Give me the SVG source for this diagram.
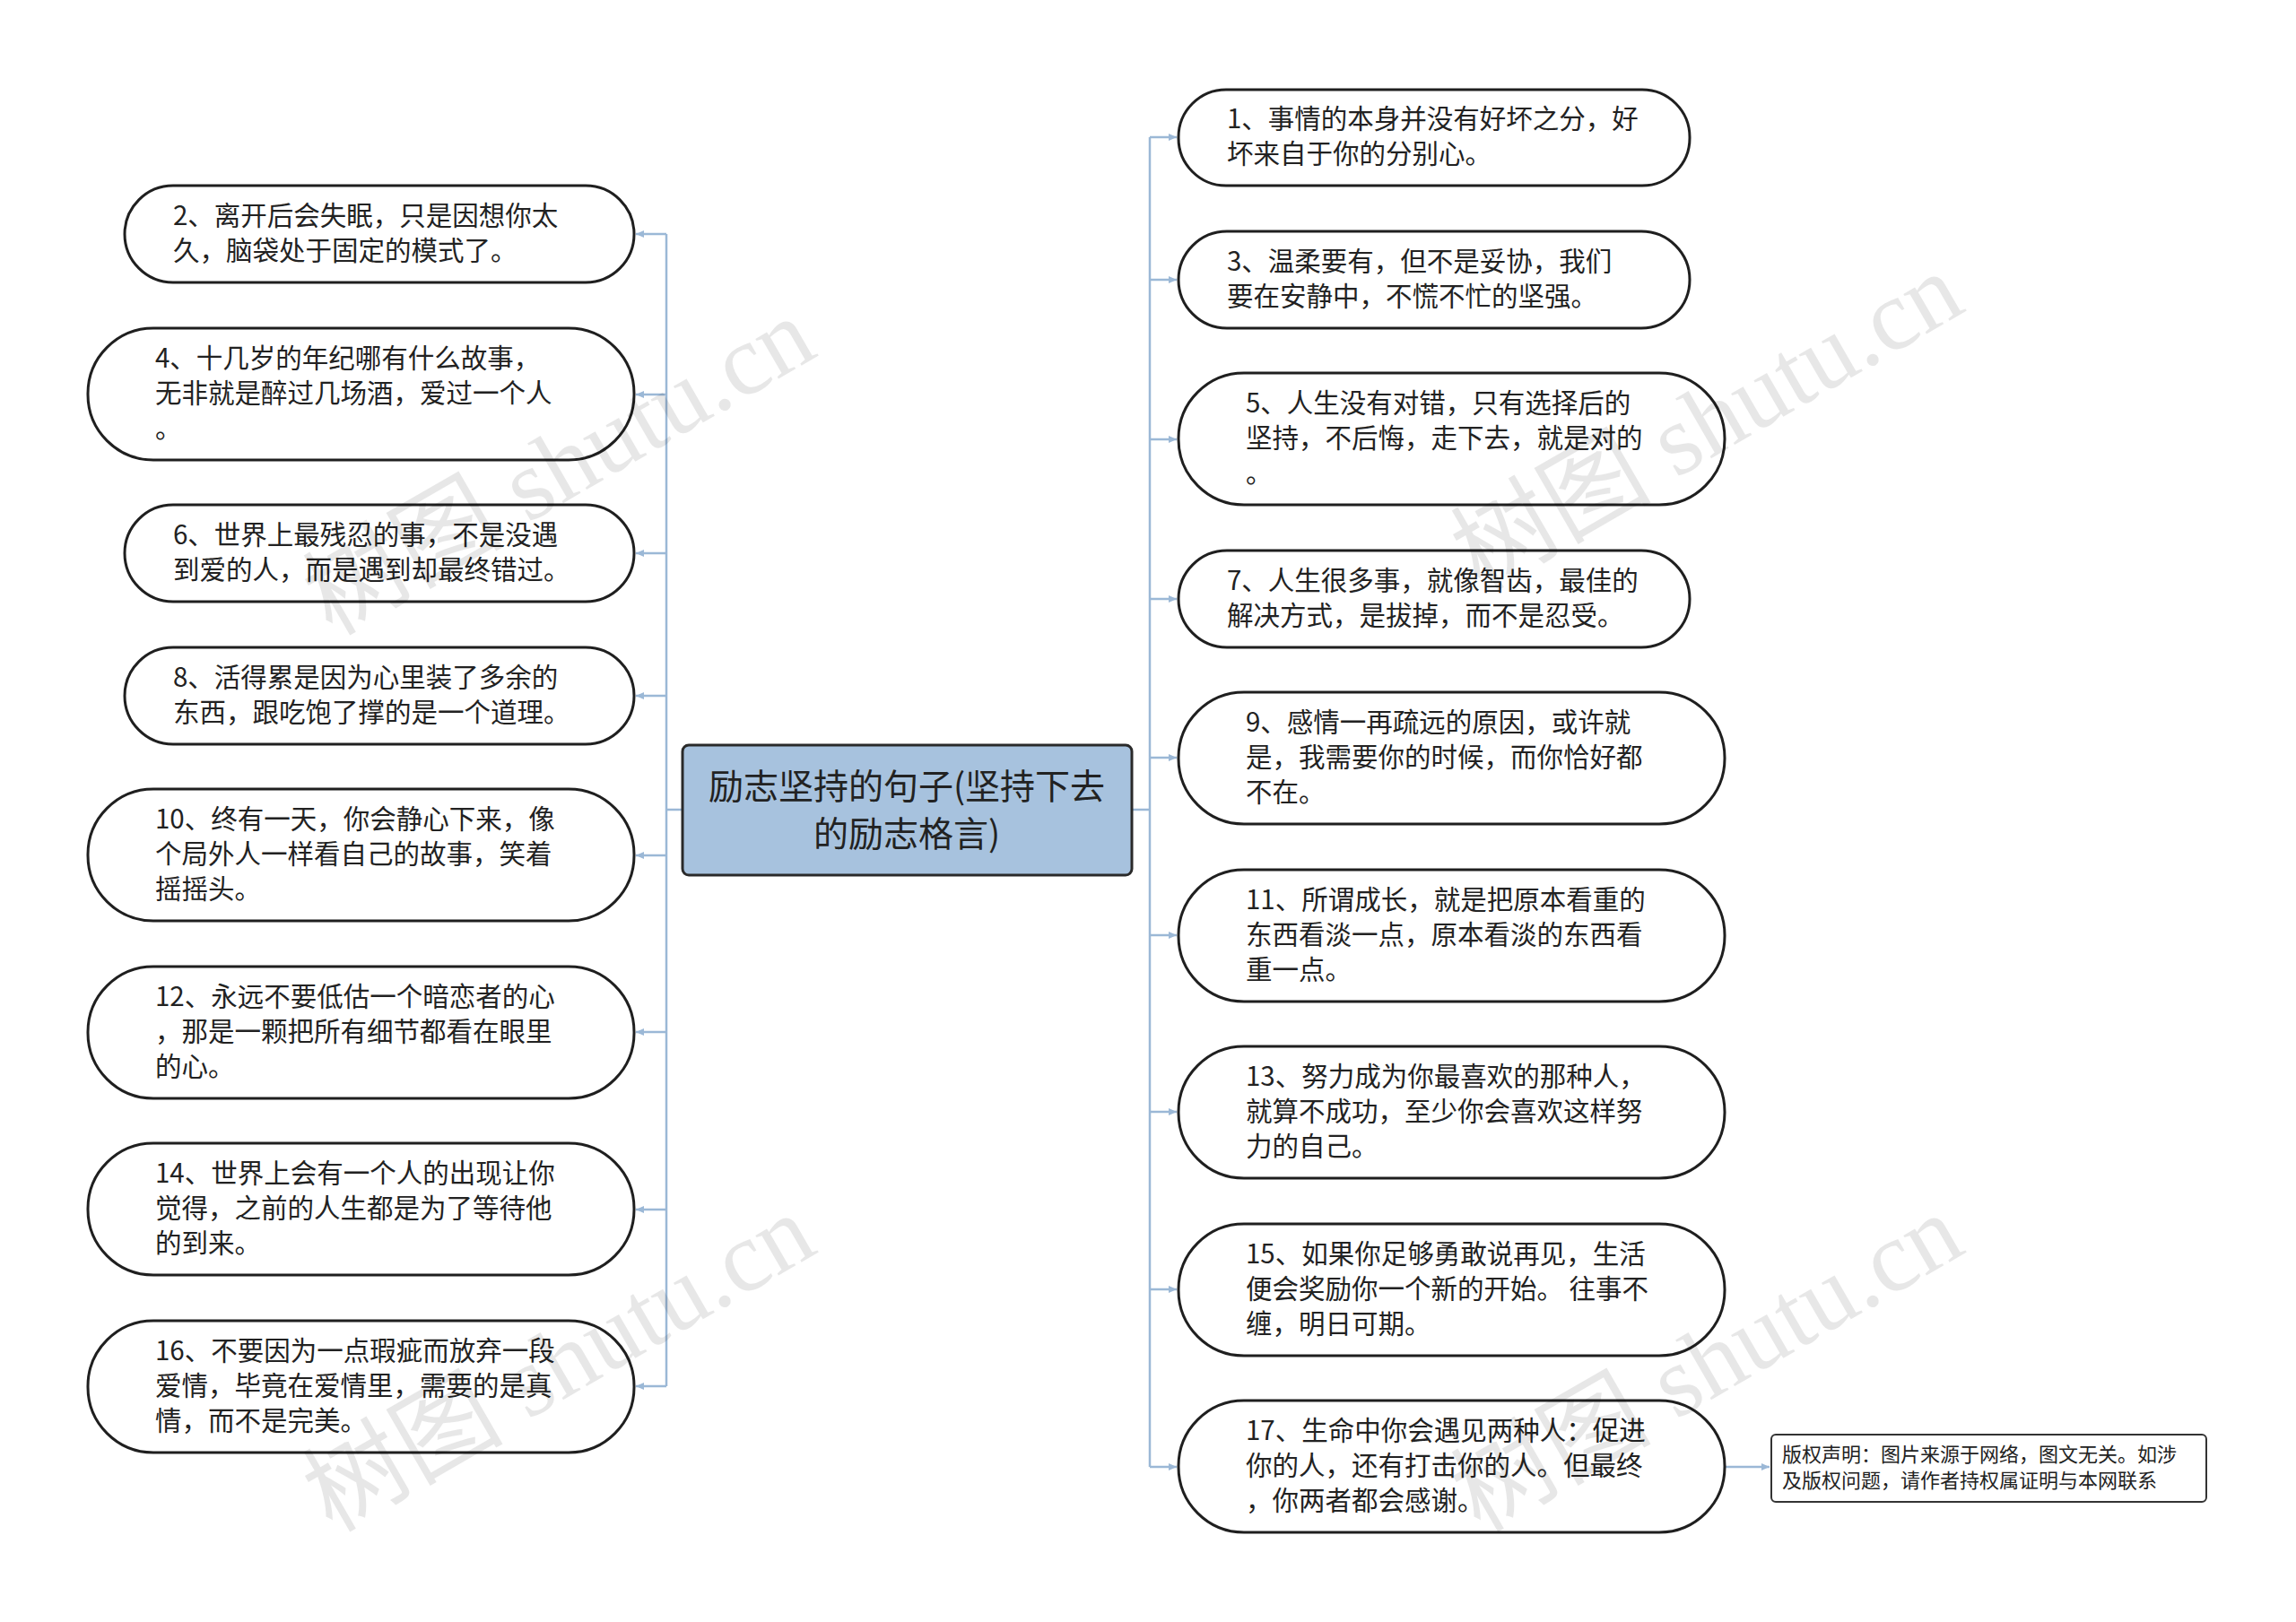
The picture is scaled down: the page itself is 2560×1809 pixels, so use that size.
<svg xmlns="http://www.w3.org/2000/svg" width="2560" height="1809" viewBox="0 0 2560 1809">
<style>
.n{fill:#fff;stroke:#1f1f1f;stroke-width:3}
.t{font-family:"Noto Sans CJK SC","Noto Sans",sans-serif;font-size:29.5px;fill:#222}
.c{fill:none;stroke:#9bb8d6;stroke-width:2.5}
.w{font-family:"Liberation Serif","Noto Sans CJK SC",serif;font-size:112px;fill:#000;opacity:0.09}
</style>
<defs><marker id="a" markerWidth="10" markerHeight="10" refX="9" refY="5" orient="auto" markerUnits="userSpaceOnUse"><path d="M0,1 L9,5 L0,9 Z" fill="#9bb8d6"/></marker></defs>
<rect width="2560" height="1809" fill="#fff"/>
<g id="connectors">
<path class="c" d="M761,903 H743 M743,261 V1546 M1262,903 H1282 M1282,153 V1636"/>
<path class="c" marker-end="url(#a)" d="M743,261 H709"/>
<path class="c" marker-end="url(#a)" d="M743,440 H709"/>
<path class="c" marker-end="url(#a)" d="M743,617 H709"/>
<path class="c" marker-end="url(#a)" d="M743,776 H709"/>
<path class="c" marker-end="url(#a)" d="M743,954 H709"/>
<path class="c" marker-end="url(#a)" d="M743,1151 H709"/>
<path class="c" marker-end="url(#a)" d="M743,1349 H709"/>
<path class="c" marker-end="url(#a)" d="M743,1546 H709"/>
<path class="c" marker-end="url(#a)" d="M1282,153 H1312"/>
<path class="c" marker-end="url(#a)" d="M1282,312 H1312"/>
<path class="c" marker-end="url(#a)" d="M1282,490 H1312"/>
<path class="c" marker-end="url(#a)" d="M1282,668 H1312"/>
<path class="c" marker-end="url(#a)" d="M1282,845 H1312"/>
<path class="c" marker-end="url(#a)" d="M1282,1043 H1312"/>
<path class="c" marker-end="url(#a)" d="M1282,1240 H1312"/>
<path class="c" marker-end="url(#a)" d="M1282,1438 H1312"/>
<path class="c" marker-end="url(#a)" d="M1282,1636 H1312"/>
<path class="c" marker-end="url(#a)" d="M1923,1636 H1973"/>
</g>
<g id="center"><rect x="761" y="831" width="501" height="145" rx="7" fill="#a7c2de" stroke="#2a2a2a" stroke-width="3"/>
<text class="t" style="font-size:39px" text-anchor="middle"><tspan x="1011" y="891">励志坚持的句子(坚持下去</tspan><tspan x="1011" y="944">的励志格言)</tspan></text></g>
<g id="n2"><rect class="n" x="139" y="207" width="568" height="108" rx="54"/><text class="t"><tspan x="193" y="251">2、离开后会失眠，只是因想你太</tspan><tspan x="193" y="290">久，脑袋处于固定的模式了。</tspan></text></g>
<g id="n4"><rect class="n" x="98" y="366" width="609" height="147" rx="73"/><text class="t"><tspan x="173" y="410">4、十几岁的年纪哪有什么故事，</tspan><tspan x="173" y="449">无非就是醉过几场酒，爱过一个人</tspan><tspan x="173" y="488">。</tspan></text></g>
<g id="n6"><rect class="n" x="139" y="563" width="568" height="108" rx="54"/><text class="t"><tspan x="193" y="607">6、世界上最残忍的事，不是没遇</tspan><tspan x="193" y="646">到爱的人，而是遇到却最终错过。</tspan></text></g>
<g id="n8"><rect class="n" x="139" y="722" width="568" height="108" rx="54"/><text class="t"><tspan x="193" y="766">8、活得累是因为心里装了多余的</tspan><tspan x="193" y="805">东西，跟吃饱了撑的是一个道理。</tspan></text></g>
<g id="n10"><rect class="n" x="98" y="880" width="609" height="147" rx="73"/><text class="t"><tspan x="173" y="924">10、终有一天，你会静心下来，像</tspan><tspan x="173" y="963">个局外人一样看自己的故事，笑着</tspan><tspan x="173" y="1002">摇摇头。</tspan></text></g>
<g id="n12"><rect class="n" x="98" y="1078" width="609" height="147" rx="73"/><text class="t"><tspan x="173" y="1122">12、永远不要低估一个暗恋者的心</tspan><tspan x="173" y="1161">，那是一颗把所有细节都看在眼里</tspan><tspan x="173" y="1200">的心。</tspan></text></g>
<g id="n14"><rect class="n" x="98" y="1275" width="609" height="147" rx="73"/><text class="t"><tspan x="173" y="1319">14、世界上会有一个人的出现让你</tspan><tspan x="173" y="1358">觉得，之前的人生都是为了等待他</tspan><tspan x="173" y="1397">的到来。</tspan></text></g>
<g id="n16"><rect class="n" x="98" y="1473" width="609" height="147" rx="73"/><text class="t"><tspan x="173" y="1517">16、不要因为一点瑕疵而放弃一段</tspan><tspan x="173" y="1556">爱情，毕竟在爱情里，需要的是真</tspan><tspan x="173" y="1595">情，而不是完美。</tspan></text></g>
<g id="n1"><rect class="n" x="1314" y="100" width="570" height="107" rx="53"/><text class="t"><tspan x="1368" y="143">1、事情的本身并没有好坏之分，好</tspan><tspan x="1368" y="182">坏来自于你的分别心。</tspan></text></g>
<g id="n3"><rect class="n" x="1314" y="258" width="570" height="108" rx="54"/><text class="t"><tspan x="1368" y="302">3、温柔要有，但不是妥协，我们</tspan><tspan x="1368" y="341">要在安静中，不慌不忙的坚强。</tspan></text></g>
<g id="n5"><rect class="n" x="1314" y="416" width="609" height="147" rx="73"/><text class="t"><tspan x="1389" y="460">5、人生没有对错，只有选择后的</tspan><tspan x="1389" y="499">坚持，不后悔，走下去，就是对的</tspan><tspan x="1389" y="538">。</tspan></text></g>
<g id="n7"><rect class="n" x="1314" y="614" width="570" height="108" rx="54"/><text class="t"><tspan x="1368" y="658">7、人生很多事，就像智齿，最佳的</tspan><tspan x="1368" y="697">解决方式，是拔掉，而不是忍受。</tspan></text></g>
<g id="n9"><rect class="n" x="1314" y="772" width="609" height="147" rx="73"/><text class="t"><tspan x="1389" y="816">9、感情一再疏远的原因，或许就</tspan><tspan x="1389" y="855">是，我需要你的时候，而你恰好都</tspan><tspan x="1389" y="894">不在。</tspan></text></g>
<g id="n11"><rect class="n" x="1314" y="970" width="609" height="147" rx="73"/><text class="t"><tspan x="1389" y="1014">11、所谓成长，就是把原本看重的</tspan><tspan x="1389" y="1053">东西看淡一点，原本看淡的东西看</tspan><tspan x="1389" y="1092">重一点。</tspan></text></g>
<g id="n13"><rect class="n" x="1314" y="1167" width="609" height="147" rx="73"/><text class="t"><tspan x="1389" y="1211">13、努力成为你最喜欢的那种人，</tspan><tspan x="1389" y="1250">就算不成功，至少你会喜欢这样努</tspan><tspan x="1389" y="1289">力的自己。</tspan></text></g>
<g id="n15"><rect class="n" x="1314" y="1365" width="609" height="147" rx="73"/><text class="t"><tspan x="1389" y="1409">15、如果你足够勇敢说再见，生活</tspan><tspan x="1389" y="1448">便会奖励你一个新的开始。 往事不</tspan><tspan x="1389" y="1487">缠，明日可期。</tspan></text></g>
<g id="n17"><rect class="n" x="1314" y="1562" width="609" height="147" rx="73"/><text class="t"><tspan x="1389" y="1606">17、生命中你会遇见两种人：促进</tspan><tspan x="1389" y="1645">你的人，还有打击你的人。但最终</tspan><tspan x="1389" y="1684">，你两者都会感谢。</tspan></text></g>
<g id="copyright"><rect x="1975" y="1600" width="485" height="75" rx="5" fill="#fff" stroke="#333" stroke-width="2"/><text class="t" style="font-size:22px"><tspan x="1987" y="1630">版权声明：图片来源于网络，图文无关。如涉</tspan><tspan x="1987" y="1659">及版权问题，请作者持权属证明与本网联系</tspan></text></g>
<g id="watermarks">
<text class="w" transform="translate(370,710) rotate(-30)">树图 shutu.cn</text>
<text class="w" transform="translate(1650,660) rotate(-30)">树图 shutu.cn</text>
<text class="w" transform="translate(370,1710) rotate(-30)">树图 shutu.cn</text>
<text class="w" transform="translate(1650,1710) rotate(-30)">树图 shutu.cn</text>
</g>
</svg>
